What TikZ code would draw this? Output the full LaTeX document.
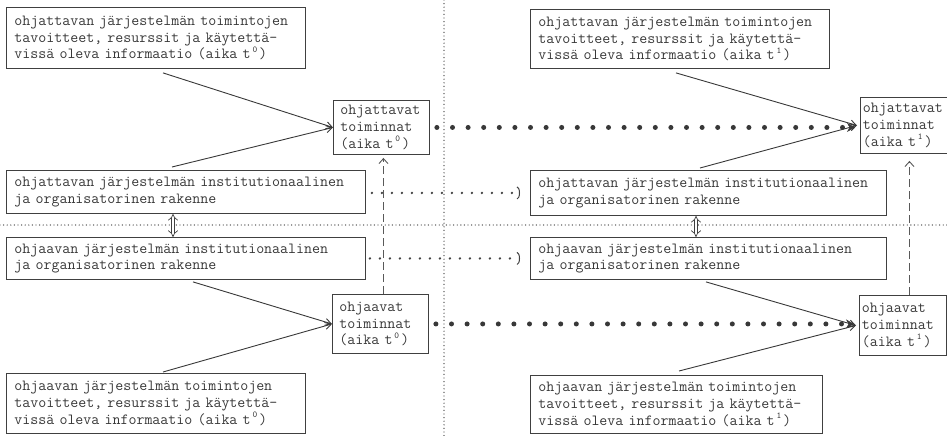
\documentclass[tikz,border=0pt]{standalone}
\usetikzlibrary{arrows.meta,calc}
\newcommand\tfont{\ttfamily\fontsize{15.5}{16.8}\selectfont}
\newcommand\tsup[1]{\makebox[0.55em]{\smash{\raisebox{0.42em}{\fontsize{9}{9}\selectfont #1}}}}
\begin{document}
\begin{tikzpicture}[x=1pt,y=-1pt,
  bx/.style={draw=black!75, line width=0.9pt, anchor=north west, inner xsep=8pt, inner ysep=1pt, align=left, font=\tfont, text=black!78},
  conn/.style={draw=black!78, line width=0.9pt, -{Straight Barb[length=6pt,width=7pt]}},
  bigdots/.style={draw=black!78, line width=5pt, line cap=round, dash pattern=on 0pt off 15.6pt, -{Stealth[length=8pt,width=9pt,line width=0.5pt]}},
  smalldots/.style={draw=black!75, line width=2.6pt, line cap=round, dash pattern=on 0pt off 10pt, -{Arc Barb[length=3pt,width=13pt,line width=1pt]}},
  finedots/.style={draw=black!70, line width=1.4pt, line cap=round, dash pattern=on 0pt off 3.6pt},
  dashedarrow/.style={draw=black!65, line width=0.9pt, dash pattern=on 8pt off 4pt, -{Straight Barb[length=5pt,width=9pt,line width=0.9pt]}},
  dblarrow/.style={draw=black!75, double=white, double distance=2.8pt, line width=0.7pt, {Implies[]}-{Implies[]}}
]
\useasboundingbox (0,0) rectangle (947,436);

% separator lines
\coordinate (vtop) at (444,0);
\coordinate (vbot) at (444,436);
\coordinate (hl) at (0,225);
\coordinate (hr) at (947,225);
\draw[finedots] (vtop) -- (vbot);
\draw[finedots] (hl) -- (hr);

% boxes
\node[bx, text width=283pt, minimum height=61pt] (A0) at (6,7)
  {ohjattavan järjestelmän toimintojen\\tavoitteet, resurssit ja käytettä-\\vissä oleva informaatio (aika t\tsup{0})};
\node[bx, text width=283pt, minimum height=59pt] (A1) at (530,9)
  {ohjattavan järjestelmän toimintojen\\tavoitteet, resurssit ja käytettä-\\vissä oleva informaatio (aika t\tsup{1})};
\node[bx, text width=283pt, minimum height=60pt] (C0) at (6,373)
  {ohjaavan järjestelmän toimintojen\\tavoitteet, resurssit ja käytettä-\\vissä oleva informaatio (aika t\tsup{0})};
\node[bx, text width=276pt, minimum height=58pt] (C1) at (530,375)
  {ohjaavan järjestelmän toimintojen\\tavoitteet, resurssit ja käytettä-\\vissä oleva informaatio (aika t\tsup{1})};

\node[bx, text width=343pt, minimum height=43pt] (IA0) at (6,170)
  {ohjattavan järjestelmän institutionaalinen\\ja organisatorinen rakenne};
\node[bx, text width=340pt, minimum height=45pt] (IA1) at (530,170)
  {ohjattavan järjestelmän institutionaalinen\\ja organisatorinen rakenne};
\node[bx, text width=343pt, minimum height=42pt] (IB0) at (6,237)
  {ohjaavan järjestelmän institutionaalinen\\ja organisatorinen rakenne};
\node[bx, text width=340pt, minimum height=42pt] (IB1) at (530,237)
  {ohjaavan järjestelmän institutionaalinen\\ja organisatorinen rakenne};

\node[bx, inner xsep=7pt, text width=82pt, minimum height=54pt] (TA0) at (333,100)
  {ohjattavat\\toiminnat\\(aika t\tsup{0})};
\node[bx, inner xsep=2.5pt, text width=82pt, minimum height=56pt] (TA1) at (860,97)
  {ohjattavat\\toiminnat\\(aika t\tsup{1})};
\node[bx, inner xsep=7pt, text width=82pt, minimum height=59pt] (TB0) at (332,294)
  {ohjaavat\\toiminnat\\(aika t\tsup{0})};
\node[bx, inner xsep=2.5pt, text width=82pt, minimum height=60pt] (TB1) at (859,295)
  {ohjaavat\\toiminnat\\(aika t\tsup{1})};

% solid connectors
\draw[conn] ([shift={(157,4)}]A0.south west) -- (TA0.west);
\draw[conn] ([shift={(166,-3)}]IA0.north west) -- (TA0.west);
\draw[conn] ([shift={(146,4)}]A1.south west) -- ([xshift=-3pt]TA1.west);
\draw[conn] ([shift={(170,-2)}]IA1.north west) -- ([xshift=-3pt]TA1.west);
\draw[conn] ([shift={(187,2)}]IB0.south west) -- (TB0.west);
\draw[conn] ([shift={(157,-1)}]C0.north west) -- (TB0.west);
\draw[conn] ([shift={(176,2)}]IB1.south west) -- ([xshift=-3pt]TB1.west);
\draw[conn] ([shift={(149,-4)}]C1.north west) -- ([xshift=-3pt]TB1.west);

% big dotted arrows
\draw[bigdots, shorten <=7pt, shorten >=5pt] (TA0.east) -- (TA0.east -| TA1.west);
\draw[bigdots, shorten <=7pt, shorten >=5pt] (TB0.east) -- (TB0.east -| TB1.west);

% small dotted arrows
\draw[smalldots, shorten <=6pt, shorten >=10pt] ([yshift=-1pt]IA0.east) -- ([yshift=-1pt]IA0.east -| IA1.west);
\draw[smalldots, shorten <=4pt, shorten >=10pt] (IB0.east) -- (IB0.east -| IB1.west);

% dashed upward arrows
\draw[dashedarrow, shorten >=3pt] ([xshift=3pt]TB0.north) -- ([xshift=3pt]TB0.north |- TA0.south);
\draw[dashedarrow, shorten >=7pt] ([xshift=6.5pt]TB1.north) -- ([xshift=6.5pt]TB1.north |- TA1.south);

% double arrows
\draw[dblarrow] ([xshift=167pt]IA0.south west) -- ([xshift=167pt]IA0.south west |- IB0.north);
\draw[dblarrow] ([xshift=166pt]IA1.south west) -- ([xshift=166pt]IA1.south west |- IB1.north);
\end{tikzpicture}
\end{document}
